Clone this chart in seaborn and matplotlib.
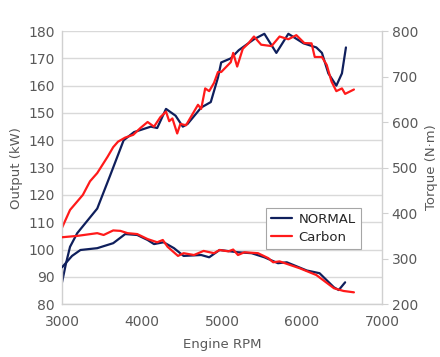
import numpy as np
import pandas as pd
import matplotlib
matplotlib.use("Agg")
import matplotlib.pyplot as plt
import seaborn as sns

# output (kW)
normal_out_rpm = [3000, 3050, 3100, 3190, 3440, 3600, 3770, 3900, 4110, 4190, 4300,
                  4420, 4510, 4570, 4740, 4860, 4950, 4990, 5110, 5210, 5400, 5530,
                  5680, 5830, 6020, 6180, 6250, 6330, 6430, 6500, 6550]
normal_out_kw = [88, 95, 101, 106, 115, 127, 140, 143, 145, 144.5, 151.5,
                 149, 145, 146, 152, 154, 163, 168.5, 170, 173, 177, 179,
                 172, 179, 175.5, 174, 172, 164.5, 160, 164.5, 174]

carbon_out_rpm = [3000, 3100, 3260, 3350, 3440, 3570, 3640, 3700, 3790, 3890, 3980,
                  4070, 4150, 4230, 4300, 4340, 4380, 4440, 4480, 4550, 4610, 4700,
                  4740, 4790, 4840, 4900, 4950, 4990, 5110, 5140, 5190, 5260, 5330,
                  5400, 5490, 5620, 5720, 5830, 5930, 6030, 6120, 6160, 6250, 6310,
                  6370, 6430, 6500, 6540, 6650]
carbon_out_kw = [108, 114.5, 120, 125, 128, 134, 137.5, 139.5, 141, 142, 144.5,
                 146.7, 145, 148.5, 150.5, 147, 148, 142.5, 146, 145.5, 148.5, 153,
                 151.5, 159, 158, 161, 165, 165, 168.6, 172, 167, 173.5, 175.5,
                 178, 175, 174.5, 178, 177, 178.5, 175.6, 175.5, 170.5, 170.5, 167.6,
                 161.5, 158, 159, 157, 158.6]

# torque (N·m)
normal_tq_rpm = [3000, 3125, 3230, 3440, 3640, 3790, 3940, 4070, 4150, 4270, 4400,
                 4520, 4740, 4840, 4970, 5200, 5370, 5530, 5700, 5810, 6060, 6220,
                 6400, 6460, 6540]
normal_tq_nm = [281, 306, 319, 323, 334, 354, 352, 341, 332, 336, 323,
                306, 308, 303, 319, 314, 312, 303, 290, 292, 274, 268,
                237, 231, 248]

carbon_tq_rpm = [3000, 3190, 3440, 3520, 3640, 3730, 3820, 3940, 4070, 4190, 4260,
                 4320, 4450, 4520, 4650, 4770, 4900, 4970, 5080, 5140, 5200, 5280,
                 5450, 5580, 5640, 5720, 5970, 6180, 6400, 6520, 6650]
carbon_tq_nm = [347, 350, 356, 352, 362, 361, 356, 354, 343, 336, 341,
                326, 306, 312, 308, 317, 312, 319, 316, 320, 308, 314,
                312, 301, 292, 294, 279, 264, 235, 229, 226]

navy = "#0f1f5c"
red = "#ff1a1a"
grey = "#595959"

sns.set_style("white")
plt.rcParams["font.family"] = ["DejaVu Sans"]

fig = plt.figure(figsize=(4.4, 3.57), dpi=100)
ax = fig.add_axes([0.141, 0.148, 0.727, 0.765])
ax2 = ax.twinx()

out_df = pd.concat([
    pd.DataFrame({"rpm": normal_out_rpm, "val": normal_out_kw, "car": "NORMAL"}),
    pd.DataFrame({"rpm": carbon_out_rpm, "val": carbon_out_kw, "car": "Carbon"}),
])
tq_df = pd.concat([
    pd.DataFrame({"rpm": normal_tq_rpm, "val": normal_tq_nm, "car": "NORMAL"}),
    pd.DataFrame({"rpm": carbon_tq_rpm, "val": carbon_tq_nm, "car": "Carbon"}),
])
pal = {"NORMAL": navy, "Carbon": red}

sns.lineplot(data=out_df, x="rpm", y="val", hue="car", palette=pal,
             linewidth=1.6, ax=ax, legend=False, sort=False)
sns.lineplot(data=tq_df, x="rpm", y="val", hue="car", palette=pal,
             linewidth=1.6, ax=ax2, legend=False, sort=False)

ax.set_xlim(3000, 7000)
ax.set_ylim(80, 180)
ax2.set_ylim(200, 800)
ax.set_xticks(range(3000, 7001, 1000))
ax.set_yticks(range(80, 181, 10))
ax2.set_yticks(range(200, 801, 100))

ax.yaxis.grid(True, color="#d9d9d9", linewidth=1)
ax.set_axisbelow(True)

for a in (ax, ax2):
    for side in a.spines:
        a.spines[side].set_visible(False)
ax.spines["left"].set_visible(True)
ax.spines["bottom"].set_visible(True)
ax2.spines["right"].set_visible(True)
for s in (ax.spines["left"], ax.spines["bottom"], ax2.spines["right"]):
    s.set_color("#d0d0d0")
    s.set_linewidth(1)

ax.tick_params(axis="x", length=0, labelsize=10, labelcolor=grey, pad=8)
ax.tick_params(axis="y", length=0, labelsize=10, labelcolor=grey, pad=5)
ax2.tick_params(axis="y", length=4, color="#d0d0d0", labelsize=10,
                labelcolor=grey, pad=3)

ax.set_xlabel("Engine RPM", fontsize=9.5, color=grey, labelpad=6)
ax.set_ylabel("Output (kW)", fontsize=9.5, color=grey, labelpad=4)
ax2.set_ylabel("Torque (N·m)", fontsize=9.5, color=grey, rotation=90, labelpad=5)

handles = ax.get_lines()[:2]
leg = ax2.legend(handles, ["NORMAL", "Carbon"], loc="upper left",
                 bbox_to_anchor=(0.616, 0.377), fontsize=9.5, frameon=True,
                 fancybox=False, framealpha=1, edgecolor="#a6a6a6",
                 handlelength=1.6, borderpad=0.4, labelspacing=0.35,
                 handletextpad=0.5)
leg.get_frame().set_linewidth(0.8)
for t in leg.get_texts():
    t.set_color("#262626")

fig.savefig("out.png", dpi=100)
